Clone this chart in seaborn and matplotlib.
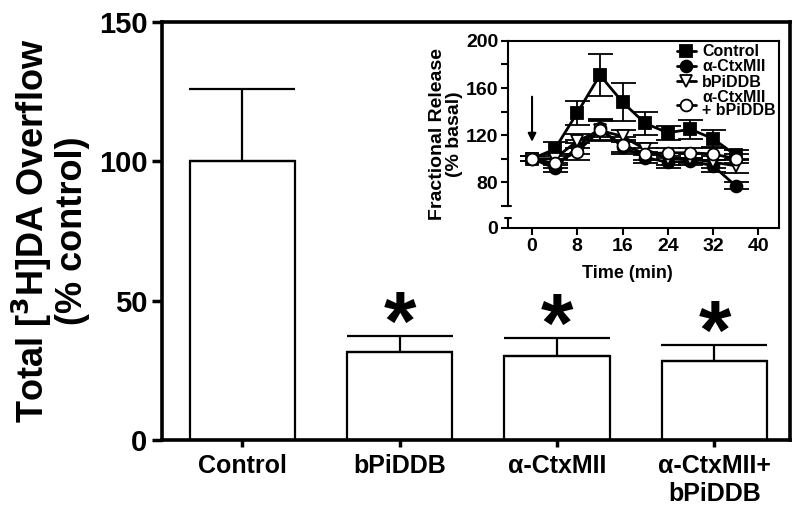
import numpy as np
import pandas as pd
import matplotlib
matplotlib.use('Agg')
import matplotlib.pyplot as plt
import matplotlib.transforms as mtransforms
import seaborn as sns

# main bar chart
groups = ['Control', 'bPiDDB', 'α-CtxMII', 'α-CtxMII+\nbPiDDB']
overflow = [100, 31.4, 30.0, 28.2]
overflow_sem = [26, 6.0, 6.7, 6.0]
significant = [False, True, True, True]

# inset time course
time_min = [0, 4, 8, 12, 16, 20, 24, 28, 32, 36]
ctrl = [100, 108, 139, 171, 148, 130, 122, 125, 117, 103]
ctrl_err = [2, 6, 10, 18, 16, 10, 6, 8, 7, 4]
ctx = [100, 92, 110, 126, 110, 101, 97, 98, 94, 77]
ctx_err = [2, 3, 6, 8, 6, 5, 5, 3, 5, 3]
bpi = [100, 100, 115, 124, 119, 108, 100, 100, 97, 94]
bpi_err = [2, 4, 6, 9, 5, 5, 5, 4, 5, 6]
combo = [100, 96, 106, 124, 112, 104, 105, 105, 104, 100]
combo_err = [2, 4, 7, 8, 6, 5, 4, 4, 5, 4]

sns.set_theme(style='ticks')
plt.rcParams['font.family'] = ['Liberation Sans', 'DejaVu Sans']
plt.rcParams['font.weight'] = 'bold'
for key in ['text.color', 'axes.labelcolor', 'xtick.color', 'ytick.color',
            'axes.edgecolor']:
    plt.rcParams[key] = 'black'

fig = plt.figure(figsize=(8, 5.18), dpi=100)
ax = fig.add_axes([0.2025, 0.1506, 0.785, 0.807])

sns.barplot(x=groups, y=overflow, color='white', edgecolor='black',
            linewidth=1.6, width=0.67, errorbar=None, saturation=1, ax=ax)
xpos = np.arange(len(groups))
ax.errorbar(xpos, overflow, yerr=[np.zeros(len(groups)), overflow_sem],
            fmt='none', ecolor='black', elinewidth=1.6, capsize=38, capthick=1.6)
for x, m, s, sig in zip(xpos, overflow, overflow_sem, significant):
    if sig:
        ax.text(x, m + s - 5, '*', ha='center', va='baseline',
                fontsize=60, fontweight='bold')

ax.set_xlim(-0.51, 3.48)
ax.set_ylim(0, 150)
ax.set_yticks([0, 50, 100, 150])
ax.tick_params(axis='y', labelsize=21, width=2.5, length=7, direction='out')
ax.tick_params(axis='x', labelsize=18, width=2.5, length=5, direction='out', pad=5)
for lab in ax.get_xticklabels() + ax.get_yticklabels():
    lab.set_fontweight('bold')
for sp in ax.spines.values():
    sp.set_visible(True)
    sp.set_linewidth(2.6)
    sp.set_color('black')
ax.set_ylabel('Total [$^{\\mathbf{3}}$H]DA Overflow\n(% control)',
              fontsize=26, fontweight='bold', labelpad=6, linespacing=1.05)
ax.set_xlabel('')

# inset
ins = fig.add_axes([0.635, 0.56, 0.339, 0.361])
series = [
    ('Control', ctrl, ctrl_err, 's', 'black'),
    ('α-CtxMII', ctx, ctx_err, 'o', 'black'),
    ('bPiDDB', bpi, bpi_err, 'v', 'white'),
    ('α-CtxMII\n+ bPiDDB', combo, combo_err, 'o', 'white'),
]
for name, vals, errs, mk, fc in series:
    ins.errorbar(time_min, vals, yerr=errs, fmt='none', ecolor='black',
                 elinewidth=1.3, capsize=9, capthick=1.3, zorder=2)
    sns.lineplot(x=time_min, y=vals, color='black', marker=mk, markersize=8.5,
                 markerfacecolor=fc, markeredgecolor='black', markeredgewidth=1.3,
                 linewidth=2.0, label=name, ax=ins, zorder=3)

ins.annotate('', xy=(0, 112), xytext=(0, 155),
             arrowprops=dict(arrowstyle='-|>', color='black', lw=1.5,
                             mutation_scale=12))

ymin = 41.2
ins.set_xlim(-4.25, 43.7)
ins.set_ylim(ymin, 200)
ins.set_xticks([0, 8, 16, 24, 32, 40])
ins.set_yticks([ymin, 80, 120, 160, 200])
ins.set_yticklabels(['0', '80', '120', '160', '200'])
ins.set_yticks([60, 100, 140, 180], minor=True)
ins.tick_params(axis='both', which='major', labelsize=14, width=1.5, length=5, pad=2)
ins.tick_params(axis='y', which='minor', width=1.5, length=5)
for lab in ins.get_xticklabels() + ins.get_yticklabels():
    lab.set_fontweight('bold')
for sp in ins.spines.values():
    sp.set_visible(True)
    sp.set_linewidth(1.5)
    sp.set_color('black')
ins.spines['left'].set_bounds(60, 200)
# broken-axis stub at the bottom of the y axis
tr = mtransforms.blended_transform_factory(ins.transAxes, ins.transData)
ins.plot([0, 0], [ymin, 49.7], color='black', lw=1.5, transform=tr, clip_on=False)
ins.plot([-0.012, 0.012], [49.7, 49.7], color='black', lw=1.5, transform=tr, clip_on=False)
ins.plot([0, 0.012], [60, 60], color='black', lw=1.5, transform=tr, clip_on=False)

ins.set_xlabel('Time (min)', fontsize=13, fontweight='bold', labelpad=2)
ins.xaxis.set_label_coords(0.44, -0.2)
ins.set_ylabel('Fractional Release\n(% basal)', fontsize=14, fontweight='bold',
               labelpad=2, linespacing=1.0)
leg = ins.legend(loc='upper right', frameon=False, fontsize=11.5, handlelength=1.2,
                 labelspacing=0.02, handletextpad=0.4, borderaxespad=0.1,
                 borderpad=0.1)
for t in leg.get_texts():
    t.set_fontweight('bold')
    t.set_linespacing(0.85)

fig.savefig('out.png', dpi=100)
